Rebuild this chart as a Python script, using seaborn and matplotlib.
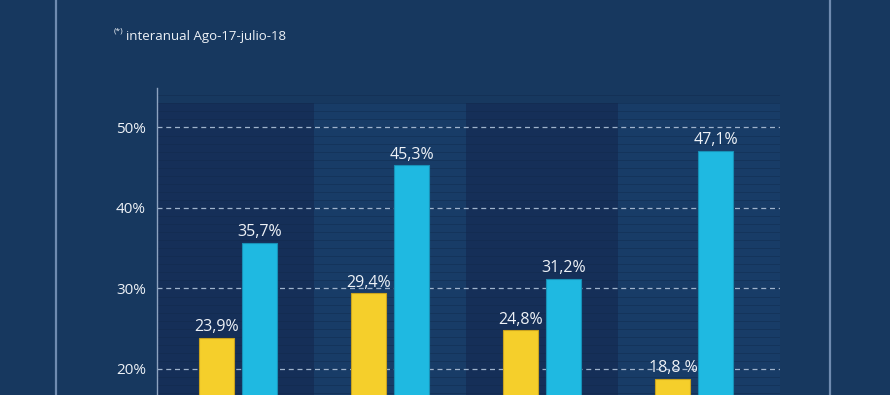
import matplotlib
matplotlib.use("Agg")
import matplotlib.pyplot as plt
import seaborn as sns
import pandas as pd

categories = ["Grupo 1", "Grupo 2", "Grupo 3", "Grupo 4"]
series_names = ["Serie A", "Serie B"]
values_a = [23.9, 29.4, 24.8, 18.8]
values_b = [35.7, 45.3, 31.2, 47.1]
labels_a = ["23,9%", "29,4%", "24,8%", "18,8 %"]
labels_b = ["35,7%", "45,3%", "31,2%", "47,1%"]
yticks = [20, 30, 40, 50]
ytick_labels = ["20%", "30%", "40%", "50%"]
subtitle = "interanual Ago-17-julio-18"

BG = "#17385F"
BAND_DARK = "#152F58"
BAND_LIGHT = "#183C67"
YELLOW = "#F5CF2B"
BLUE = "#1FB9E1"
TEXT = "#EEF2F7"

sns.set_theme(style="white")
plt.rcParams["font.family"] = ["Open Sans", "DejaVu Sans"]

df = pd.DataFrame({
    "cat": categories * 2,
    "serie": [series_names[0]] * 4 + [series_names[1]] * 4,
    "val": values_a + values_b,
})

fig = plt.figure(figsize=(8.9, 3.95), dpi=100, facecolor=BG)
W, H = 890, 395
ax = fig.add_axes([157 / W, (H - 530) / H, (780 - 157) / W, 442 / H])
ax.set_facecolor(BG)

xl, xr = -0.536, 3.563
ytop = 54.9
bounds = [xl, 0.5, 1.5, 2.5, xr]
for i in range(4):
    ax.axvspan(bounds[i], bounds[i + 1], ymin=0, ymax=53.0 / ytop,
               color=BAND_DARK if i % 2 == 0 else BAND_LIGHT, lw=0, zorder=0)
# fine horizontal stripes
for v in range(0, 55):
    ax.axhline(v, xmin=0, xmax=1, color="#10284A", lw=0.7, alpha=0.4, zorder=0.5)
for v in yticks:
    ax.axhline(v, color="#9FB3CC", lw=0.9, ls=(0, (4, 3)), zorder=0.8)

sns.barplot(data=df, x="cat", y="val", hue="serie", palette=[YELLOW, BLUE],
            width=0.566, gap=0.186, ax=ax, legend=False, zorder=2,
            saturation=1)
edge = {0: "#C9A21E", 1: "#1890B6"}
for ci, cont in enumerate(ax.containers):
    for p in cont.patches:
        p.set_edgecolor(edge[ci])
        p.set_linewidth(0.8)
    labs = labels_a if ci == 0 else labels_b
    ax.bar_label(cont, labels=labs, padding=2, color=TEXT, fontsize=11.5)

ax.set_xlim(xl, xr)
ax.set_ylim(0, ytop)
ax.set_yticks(yticks)
ax.set_yticklabels(ytick_labels, color=TEXT, fontsize=11)
ax.tick_params(axis="y", length=0, pad=8)
ax.set_xticks([])
ax.set_xlabel("")
ax.set_ylabel("")
for s in ["top", "right", "bottom"]:
    ax.spines[s].set_visible(False)
ax.spines["left"].set_color("#8DA3C0")
ax.spines["left"].set_linewidth(1.0)

# frame lines
for xp in (56, 830):
    fig.add_artist(plt.Line2D([xp / W, xp / W], [0, 1], transform=fig.transFigure,
                              color="#6F8BB0", lw=1.6))

fig.text(114 / W, 1 - 32 / H, "(*)", color=TEXT, fontsize=6, va="baseline", ha="left")
fig.text(126 / W, 1 - 40 / H, subtitle, color=TEXT, fontsize=9.5, va="baseline", ha="left")

fig.savefig("out.png", dpi=100, facecolor=BG)
